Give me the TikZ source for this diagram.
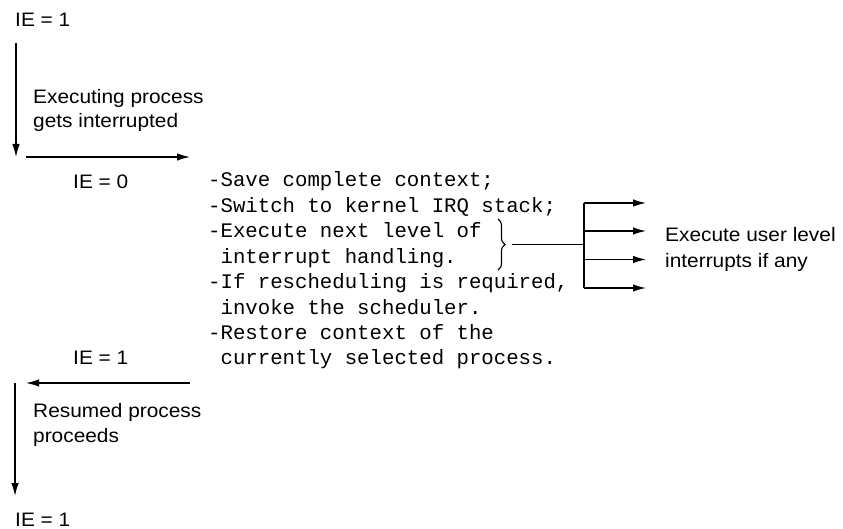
\documentclass[tikz,border=0pt]{standalone}
\usepackage{fontspec}
\setmainfont{Liberation Sans}[FakeStretch=1.07]
\newfontfamily\monof{Liberation Mono}
\usetikzlibrary{arrows.meta,decorations.pathreplacing}
\tikzset{
  lbl/.style={inner sep=0pt, anchor=base west, font=\fontsize{19.5}{24}\selectfont},
  code/.style={inner sep=0pt, anchor=base west, font=\monof\fontsize{20.7}{25.4}\selectfont},
  conn/.style={line width=1.3pt, -{Latex[length=13pt,width=7.5pt]}},
  plain/.style={line width=1.3pt},
  brc/.style={line width=1.1pt, decorate, decoration={brace, amplitude=7pt}}
}
\begin{document}
\begin{tikzpicture}[x=1pt,y=-1pt]
\useasboundingbox (0,0) rectangle (843,529);
% left side texts
\node[lbl] (ie1) at (15,27) {IE = 1};
\node[lbl] (ex1) at (33,104) {Executing process};
\node[lbl] (ex2) at (33,128) {gets interrupted};
\node[lbl] (ie0) at (73,189) {IE = 0};
\node[lbl] (ie1b) at (73,364) {IE = 1};
\node[lbl] (rs1) at (33,417) {Resumed process};
\node[lbl] (rs2) at (33,442) {proceeds};
\node[lbl] (ie1c) at (15,526) {IE = 1};
% code lines
\node[code] (m1) at (208,187) {-Save complete context;};
\node[code] (m2) at (208,212.4) {-Switch to kernel IRQ stack;};
\node[code] (m3) at (208,237.8) {-Execute next level of};
\node[code] (m4) at (208,263.2) {\ interrupt handling.};
\node[code] (m5) at (208,288.6) {-If rescheduling is required,};
\node[code] (m6) at (208,314) {\ invoke the scheduler.};
\node[code] (m7) at (208,339.4) {-Restore context of the};
\node[code] (m8) at (208,364.8) {\ currently selected process.};
\node[lbl] (u1) at (665,242) {Execute user level};
\node[lbl] (u2) at (665,267.5) {interrupts if any};
% coordinates
\coordinate (a1s) at (16,43);
\coordinate (a1e) at (16,157);
\coordinate (a2s) at (26,157);
\coordinate (a2e) at (190,157);
\coordinate (a3s) at (190,383);
\coordinate (a3e) at (26,383);
\coordinate (a4s) at (15,383);
\coordinate (a4e) at (15,496);
\coordinate (bt) at (498,219);
\coordinate (bb) at (498,270);
\coordinate (btip) at (512,244.5);
\coordinate (vj) at (584,244.5);
\coordinate (v1) at (584,203);
\coordinate (v2) at (584,231);
\coordinate (v3) at (584,259.5);
\coordinate (v4) at (584,288);
\coordinate (t1) at (646,203);
\coordinate (t2) at (646,231);
\coordinate (t3) at (646,259.5);
\coordinate (t4) at (646,288);
% connectors
\draw[conn] (a1s) -- (a1e);
\draw[conn] (a2s) -- (a2e);
\draw[conn] (a3s) -- (a3e);
\draw[conn] (a4s) -- (a4e);
\draw[brc] (bt) -- (bb);
\draw[plain] (btip) -- (vj);
\draw[plain] (v1) -- (v4);
\draw[conn] (v1) -- (t1);
\draw[conn] (v2) -- (t2);
\draw[conn] (v3) -- (t3);
\draw[conn] (v4) -- (t4);
\end{tikzpicture}
\end{document}
